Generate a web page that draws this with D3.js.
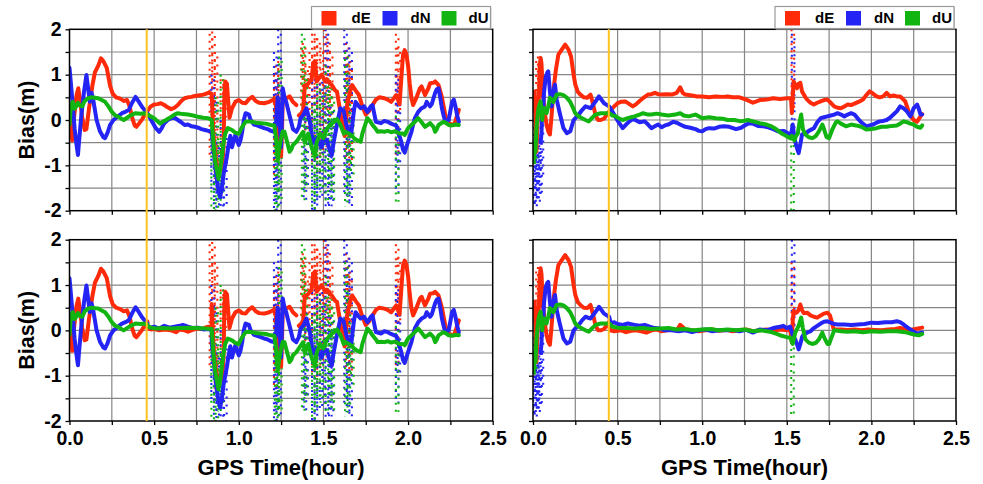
<!DOCTYPE html>
<html><head><meta charset="utf-8">
<script src="https://cdn.jsdelivr.net/npm/d3@7"></script>
<style>
html,body{margin:0;padding:0;background:#fff;}
svg{display:block;font-family:Arial,"Liberation Sans",sans-serif;}
</style></head><body>
<svg id="chart" width="983" height="484"></svg>
<script>
// ---------------- data ----------------
const seriesNames = ["dE", "dN", "dU"];
const seriesColors = ["#FF2A0A", "#2424F4", "#12B412"];
const xLabelTicks = [0, 0.5, 1.0, 1.5, 2.0, 2.5];
const yLabelTicks = [-2, -1, 0, 1, 2];
const markerTimes = [0.456, 0.448];   // vertical marker, left column / right column

// Left column: shared start (0 - 0.46 h)
const leftHeadE = [[0,0.2],[0.008,-0.1],[0.016,-0.45],[0.028,0.1],[0.042,0.55],[0.052,0.7],[0.062,0.45],[0.075,0.05],[0.09,-0.22],[0.1,-0.2],[0.115,0.25],[0.135,0.75],[0.15,1.05],[0.17,1.2],[0.186,1.36],[0.2,1.3],[0.22,1.15],[0.24,0.75],[0.255,0.58],[0.275,0.5],[0.3,0.47],[0.32,0.42],[0.34,0.44],[0.355,0.3],[0.37,0.05],[0.385,-0.12],[0.395,-0.15],[0.41,-0.08],[0.43,0.02],[0.445,0.12],[0.46,0.2]];
const leftHeadN = [[0,1.15],[0.006,0.9],[0.013,0.6],[0.022,0.2],[0.03,-0.18],[0.04,-0.5],[0.05,-0.77],[0.058,-0.4],[0.07,0.1],[0.085,0.6],[0.1,0.99],[0.11,0.7],[0.12,0.4],[0.13,0.6],[0.14,0.45],[0.16,0.0],[0.18,-0.25],[0.2,-0.38],[0.21,-0.4],[0.225,-0.28],[0.24,-0.11],[0.26,0.0],[0.28,0.06],[0.31,0.15],[0.33,0.18],[0.35,0.22],[0.37,0.38],[0.39,0.51],[0.41,0.4],[0.43,0.28],[0.46,0.15]];
const leftHeadU = [[0,-0.1],[0.006,0.2],[0.012,0.35],[0.02,0.4],[0.03,0.25],[0.04,0.3],[0.05,0.38],[0.06,0.32],[0.075,0.3],[0.09,0.42],[0.11,0.48],[0.13,0.5],[0.15,0.49],[0.17,0.48],[0.19,0.44],[0.21,0.4],[0.23,0.3],[0.25,0.18],[0.27,0.1],[0.29,0.07],[0.31,0.02],[0.32,0.0],[0.34,0.05],[0.36,0.1],[0.39,0.15],[0.42,0.14],[0.44,0.15],[0.46,0.12]];

// Left column, upper panel: 0.46 - 0.84 h
const leftTopMidE = [[0.46,0.2],[0.48,0.3],[0.5,0.34],[0.52,0.35],[0.54,0.37],[0.56,0.33],[0.58,0.28],[0.6,0.24],[0.62,0.27],[0.64,0.33],[0.66,0.42],[0.68,0.48],[0.7,0.5],[0.72,0.51],[0.74,0.53],[0.76,0.54],[0.78,0.55],[0.8,0.57],[0.82,0.6],[0.84,0.58]];
const leftTopMidN = [[0.46,0.15],[0.475,0.05],[0.49,-0.05],[0.51,-0.18],[0.53,-0.26],[0.545,-0.18],[0.56,-0.07],[0.58,0.0],[0.6,0.04],[0.62,0.05],[0.64,0.0],[0.66,-0.05],[0.68,-0.11],[0.7,-0.1],[0.72,-0.14],[0.74,-0.15],[0.76,-0.17],[0.78,-0.2],[0.8,-0.22],[0.82,-0.24],[0.84,-0.26]];
const leftTopMidU = [[0.46,0.12],[0.48,0.08],[0.5,0.04],[0.52,-0.03],[0.535,-0.08],[0.55,-0.04],[0.57,0.0],[0.6,0.07],[0.62,0.12],[0.64,0.15],[0.67,0.13],[0.7,0.12],[0.73,0.1],[0.76,0.07],[0.79,0.05],[0.82,0.04],[0.84,0.0]];

// Left column, lower panel: 0.46 - 0.84 h
const leftBotMidE = [[0.46,0.05],[0.48,0.02],[0.5,0.03],[0.53,0.0],[0.56,0.02],[0.6,0.0],[0.63,-0.04],[0.65,0.02],[0.68,0.0],[0.7,-0.03],[0.72,0.0],[0.75,0.04],[0.78,0.03],[0.8,0.06],[0.82,0.08],[0.84,0.06]];
const leftBotMidN = [[0.46,0.1],[0.48,0.06],[0.5,0.08],[0.53,0.04],[0.56,0.1],[0.59,0.06],[0.62,0.08],[0.65,0.1],[0.67,0.12],[0.7,0.08],[0.73,0.05],[0.76,0.06],[0.79,0.02],[0.82,0.03],[0.84,0.0]];
const leftBotMidU = [[0.46,0.1],[0.48,0.06],[0.51,0.04],[0.55,0.05],[0.6,0.04],[0.65,0.05],[0.7,0.06],[0.75,0.05],[0.8,0.04],[0.84,0.03]];

// Left column: shared remainder (0.84 - 2.3 h)
const leftTailE = [[0.84,0.58],[0.85,-0.3],[0.86,-0.75],[0.87,-1.0],[0.88,-1.12],[0.89,-1.05],[0.9,-1.1],[0.91,-0.6],[0.915,0.5],[0.92,0.85],[0.93,0.8],[0.94,0.3],[0.945,0.05],[0.96,0.26],[0.98,0.4],[1.0,0.44],[1.02,0.38],[1.04,0.37],[1.06,0.46],[1.08,0.51],[1.1,0.42],[1.12,0.38],[1.15,0.37],[1.18,0.4],[1.2,0.44],[1.21,0.46],[1.22,0.3],[1.23,-0.2],[1.24,-0.6],[1.25,-0.8],[1.255,-0.3],[1.26,0.5],[1.28,0.48],[1.3,0.52],[1.32,0.4],[1.34,0.33],[1.347,null],[1.355,0.1],[1.37,0.15],[1.38,0.2],[1.39,0.75],[1.41,0.8],[1.43,0.9],[1.44,1.25],[1.45,1.3],[1.46,0.85],[1.48,0.95],[1.49,1.0],[1.51,0.85],[1.52,0.9],[1.54,0.8],[1.55,0.77],[1.57,0.65],[1.58,0.63],[1.59,0.4],[1.6,0.18],[1.61,-0.1],[1.625,-0.35],[1.635,0.1],[1.64,0.33],[1.655,0.6],[1.67,0.77],[1.69,0.65],[1.71,0.55],[1.73,0.3],[1.75,0.12],[1.77,0.2],[1.79,0.33],[1.81,0.45],[1.83,0.5],[1.86,0.48],[1.88,0.45],[1.9,0.4],[1.92,0.5],[1.93,0.55],[1.95,0.35],[1.96,0.9],[1.97,1.43],[1.98,1.54],[1.99,1.45],[2.0,1.2],[2.01,0.8],[2.02,0.48],[2.03,0.33],[2.05,0.5],[2.07,0.7],[2.08,0.74],[2.1,0.55],[2.12,0.7],[2.13,0.81],[2.15,0.82],[2.16,0.85],[2.18,0.77],[2.2,0.5],[2.21,0.3],[2.22,0.11],[2.24,-0.08],[2.26,-0.1],[2.27,-0.11],[2.28,-0.02],[2.29,0.1],[2.3,0.22]];
const leftTailN = [[0.84,-0.26],[0.85,-0.6],[0.86,-1.0],[0.87,-1.3],[0.88,-1.55],[0.89,-1.7],[0.9,-1.5],[0.91,-1.2],[0.92,-1.0],[0.93,-0.8],[0.94,-0.55],[0.95,-0.35],[0.96,-0.6],[0.97,-0.45],[0.98,-0.33],[0.99,-0.45],[1.0,-0.55],[1.01,-0.45],[1.02,-0.26],[1.03,0.0],[1.04,0.15],[1.06,0.12],[1.07,0.0],[1.09,-0.1],[1.1,-0.11],[1.13,-0.15],[1.15,-0.18],[1.17,-0.2],[1.19,-0.24],[1.21,-0.26],[1.22,-0.1],[1.23,0.5],[1.24,0.1],[1.25,-0.6],[1.26,0.7],[1.27,0.5],[1.28,0.4],[1.3,0.1],[1.32,-0.2],[1.34,-0.26],[1.355,-0.15],[1.365,0.04],[1.38,0.1],[1.4,0.26],[1.42,-0.04],[1.43,-0.3],[1.44,-0.5],[1.46,-0.4],[1.48,-0.55],[1.49,-0.6],[1.5,-0.4],[1.52,-0.45],[1.54,-0.7],[1.55,-0.77],[1.56,-0.5],[1.58,-0.1],[1.6,0.26],[1.62,0.2],[1.635,-0.1],[1.65,-0.26],[1.665,-0.28],[1.68,0.2],[1.69,0.4],[1.71,0.3],[1.72,0.26],[1.74,0.3],[1.76,0.18],[1.78,0.3],[1.79,0.33],[1.81,-0.04],[1.84,-0.07],[1.86,-0.02],[1.88,-0.04],[1.9,-0.08],[1.92,-0.11],[1.93,-0.12],[1.945,-0.3],[1.96,-0.48],[1.97,-0.65],[1.98,-0.72],[1.99,-0.6],[2.0,-0.48],[2.02,-0.26],[2.03,-0.1],[2.04,0.04],[2.06,0.18],[2.08,0.26],[2.1,0.3],[2.11,0.4],[2.13,0.3],[2.14,0.35],[2.16,0.6],[2.17,0.68],[2.18,0.7],[2.19,0.5],[2.2,0.26],[2.21,0.1],[2.22,-0.04],[2.24,0.0],[2.25,0.2],[2.26,0.4],[2.27,0.45],[2.28,0.3],[2.29,0.1],[2.3,-0.04]];
const leftTailU = [[0.84,0.0],[0.85,-0.5],[0.86,-0.9],[0.87,-1.1],[0.88,-1.3],[0.89,-1.1],[0.9,-0.8],[0.91,-0.5],[0.92,-0.3],[0.935,-0.18],[0.96,-0.22],[0.98,-0.28],[1.0,-0.3],[1.02,-0.15],[1.04,-0.04],[1.06,-0.03],[1.08,-0.04],[1.1,-0.06],[1.13,-0.07],[1.16,-0.08],[1.19,-0.11],[1.21,-0.12],[1.22,-0.4],[1.23,-0.9],[1.24,-0.6],[1.25,-0.4],[1.26,-0.25],[1.27,-0.26],[1.29,-0.55],[1.3,-0.7],[1.31,-0.65],[1.32,-0.55],[1.34,-0.48],[1.36,-0.37],[1.38,-0.26],[1.39,-0.5],[1.41,-0.3],[1.43,-0.6],[1.45,-0.8],[1.46,-0.5],[1.48,-0.3],[1.5,-0.4],[1.52,-0.2],[1.54,-0.1],[1.56,-0.05],[1.58,0.02],[1.6,-0.1],[1.62,-0.3],[1.63,-0.26],[1.65,-0.3],[1.67,-0.35],[1.68,-0.4],[1.7,-0.45],[1.72,-0.48],[1.73,-0.3],[1.74,-0.18],[1.76,0.04],[1.78,-0.05],[1.79,-0.11],[1.81,-0.2],[1.82,-0.26],[1.84,-0.25],[1.86,-0.26],[1.88,-0.24],[1.9,-0.27],[1.92,-0.25],[1.93,-0.26],[1.95,-0.3],[1.97,-0.3],[1.98,-0.33],[1.99,-0.25],[2.0,-0.18],[2.02,-0.11],[2.04,-0.04],[2.06,0.04],[2.08,-0.05],[2.1,-0.15],[2.12,-0.1],[2.13,-0.07],[2.15,-0.15],[2.16,-0.26],[2.17,-0.2],[2.18,-0.11],[2.2,-0.06],[2.21,-0.04],[2.23,-0.08],[2.24,-0.11],[2.26,-0.12],[2.28,-0.1],[2.3,-0.11]];

// Left column: scattered epochs [time, low, high]
const leftBurstE = [[0.835,-0.8,1.9],[0.85,0.3,1.95],[0.865,-1.3,1.5],[0.88,-1.3,-0.6],[0.9,-1.2,0.9],[0.915,0.0,0.9],[1.215,-1.3,1.0],[1.225,-0.9,1.2],[1.24,-0.9,1.3],[1.375,0.2,1.6],[1.385,0.0,1.7],[1.4,-0.3,1.2],[1.425,-0.5,1.5],[1.44,-1.0,1.9],[1.455,0.3,1.9],[1.47,-1.3,1.8],[1.49,-0.8,1.6],[1.51,-0.6,2.0],[1.53,0.1,1.8],[1.545,0.0,1.5],[1.64,-0.9,1.7],[1.65,-0.5,1.4],[1.66,-1.0,1.2],[1.935,-0.8,1.9],[1.945,0.2,1.6]];
const leftBurstN = [[0.845,-1.6,1.0],[0.86,-1.9,0.5],[0.875,-2.0,-0.5],[0.9,-2.0,0.0],[0.92,-2.0,-0.3],[1.215,-2.0,1.5],[1.225,-1.8,0.9],[1.24,-1.9,2.0],[1.39,-1.8,0.5],[1.4,-1.5,0.3],[1.44,-2.0,1.0],[1.455,-2.0,0.2],[1.47,-1.8,0.9],[1.5,-1.7,1.0],[1.52,-2.0,2.0],[1.54,-1.9,0.0],[1.55,-1.8,0.3],[1.63,-1.6,2.0],[1.645,-1.8,1.0],[1.66,-1.9,1.6],[1.935,-1.6,1.0],[1.945,-1.0,0.8]];
const leftBurstU = [[0.845,-2.0,0.3],[0.87,-2.0,0.5],[0.885,-1.8,-0.4],[0.9,-1.6,1.0],[1.22,-2.0,0.5],[1.23,-1.9,0.2],[1.245,-1.8,1.4],[1.38,-1.8,1.9],[1.395,-1.5,1.0],[1.44,-2.0,0.3],[1.455,-1.8,0.4],[1.47,-1.5,0.8],[1.49,-1.6,0.6],[1.52,-1.8,1.2],[1.54,-1.5,0.8],[1.555,-1.8,0.5],[1.635,-1.9,1.5],[1.65,-1.7,0.8],[1.67,-1.2,0.0],[1.935,-1.8,0.1]];

// Right column: shared start (0 - 0.45 h)
const rightHeadE = [[0,0.2],[0.005,0.5],[0.01,0.63],[0.015,0.1],[0.02,-0.7],[0.027,0.0],[0.035,0.5],[0.04,1.2],[0.045,1.37],[0.05,1.25],[0.058,0.63],[0.068,0.2],[0.08,-0.1],[0.09,-0.25],[0.1,-0.32],[0.11,0.1],[0.12,0.63],[0.135,1.1],[0.15,1.44],[0.17,1.55],[0.19,1.66],[0.21,1.55],[0.225,1.4],[0.24,1.0],[0.25,0.78],[0.265,0.62],[0.28,0.56],[0.3,0.5],[0.32,0.49],[0.34,0.56],[0.355,0.35],[0.37,0.1],[0.385,0.0],[0.4,0.0],[0.42,0.03],[0.45,0.19]];
const rightHeadN = [[0.045,-0.5],[0.05,-0.3],[0.055,0.3],[0.06,0.2],[0.065,0.6],[0.075,0.95],[0.085,1.05],[0.09,1.07],[0.1,0.63],[0.11,0.3],[0.115,0.45],[0.125,0.7],[0.13,0.78],[0.14,0.45],[0.16,0.12],[0.18,-0.18],[0.2,-0.29],[0.22,-0.25],[0.24,0.0],[0.27,0.12],[0.29,0.22],[0.31,0.3],[0.34,0.26],[0.37,0.41],[0.39,0.52],[0.42,0.37],[0.45,0.3]];
const rightHeadU = [[0,-0.5],[0.005,-0.9],[0.01,-0.5],[0.015,-0.7],[0.02,-0.2],[0.03,0.19],[0.035,0.3],[0.045,0.41],[0.05,0.2],[0.055,0.0],[0.06,0.26],[0.07,0.26],[0.08,0.15],[0.09,0.3],[0.1,0.49],[0.12,0.4],[0.14,0.56],[0.16,0.57],[0.18,0.55],[0.2,0.49],[0.22,0.4],[0.235,0.28],[0.25,0.15],[0.27,0.08],[0.29,0.04],[0.31,0.0],[0.33,-0.03],[0.35,0.05],[0.37,0.12],[0.4,0.15],[0.45,0.15]];
const rightHeadBurstE = [[0.026,0.2,1.3],[0.036,0.4,1.4],[0.045,0.5,1.2]];
const rightHeadBurstN = [[0.002,-1.9,-0.3],[0.008,-1.85,-0.6],[0.014,-1.9,-0.7],[0.02,-1.8,-0.7],[0.026,-1.75,-0.7],[0.032,-1.8,-0.6],[0.038,-1.7,-0.6],[0.044,-1.6,-0.4],[0.052,-1.2,0.0],[0.06,0.4,1.0]];
const rightHeadBurstU = [[0.004,-1.0,-0.3],[0.012,-0.9,0.0],[0.02,-0.6,0.2]];

// Right column, upper panel: 0.45 - 2.3 h
const rightTopTailE = [[0.45,0.19],[0.48,0.3],[0.5,0.37],[0.52,0.4],[0.545,0.41],[0.57,0.35],[0.59,0.3],[0.61,0.35],[0.63,0.42],[0.65,0.48],[0.68,0.56],[0.7,0.57],[0.72,0.6],[0.74,0.57],[0.76,0.56],[0.79,0.57],[0.82,0.56],[0.85,0.6],[0.87,0.72],[0.885,0.6],[0.9,0.56],[0.94,0.54],[0.97,0.52],[1.0,0.52],[1.04,0.5],[1.08,0.52],[1.12,0.51],[1.15,0.52],[1.18,0.5],[1.22,0.5],[1.26,0.45],[1.3,0.38],[1.34,0.44],[1.38,0.45],[1.42,0.48],[1.46,0.46],[1.5,0.48],[1.525,0.48],[1.53,0.15],[1.535,0.5],[1.54,0.85],[1.55,0.78],[1.56,0.7],[1.57,0.8],[1.58,0.82],[1.59,0.63],[1.61,0.5],[1.62,0.45],[1.64,0.38],[1.66,0.34],[1.68,0.38],[1.7,0.41],[1.72,0.44],[1.74,0.45],[1.76,0.38],[1.78,0.3],[1.8,0.27],[1.82,0.26],[1.84,0.3],[1.86,0.34],[1.88,0.33],[1.9,0.36],[1.93,0.41],[1.95,0.45],[1.97,0.55],[1.99,0.63],[2.01,0.58],[2.03,0.52],[2.05,0.5],[2.07,0.52],[2.09,0.6],[2.11,0.52],[2.13,0.54],[2.15,0.52],[2.17,0.52],[2.19,0.45],[2.2,0.41],[2.21,0.3],[2.22,0.19],[2.24,0.05],[2.25,0.0],[2.27,-0.04],[2.28,0.02],[2.29,0.08],[2.3,0.13]];
const rightTopTailN = [[0.45,0.3],[0.47,0.18],[0.49,0.05],[0.51,-0.07],[0.53,-0.18],[0.55,-0.1],[0.57,-0.03],[0.59,0.02],[0.61,-0.01],[0.63,-0.05],[0.66,-0.03],[0.68,-0.1],[0.7,-0.18],[0.72,-0.14],[0.74,-0.1],[0.76,-0.16],[0.78,-0.12],[0.8,-0.1],[0.83,-0.04],[0.85,-0.06],[0.87,-0.1],[0.9,-0.15],[0.93,-0.17],[0.96,-0.2],[0.98,-0.24],[1.0,-0.25],[1.02,-0.2],[1.04,-0.18],[1.07,-0.19],[1.1,-0.15],[1.13,-0.14],[1.16,-0.15],[1.2,-0.2],[1.23,-0.17],[1.26,-0.1],[1.28,-0.07],[1.3,-0.08],[1.33,-0.13],[1.36,-0.14],[1.39,-0.16],[1.42,-0.2],[1.45,-0.25],[1.48,-0.24],[1.51,-0.3],[1.525,-0.33],[1.535,-0.1],[1.545,-0.4],[1.56,-0.62],[1.57,-0.73],[1.58,-0.54],[1.59,-0.32],[1.61,-0.3],[1.63,-0.24],[1.66,-0.18],[1.68,-0.05],[1.7,0.04],[1.72,0.06],[1.74,0.08],[1.76,0.1],[1.78,0.12],[1.8,0.15],[1.82,0.12],[1.84,0.08],[1.86,0.12],[1.88,0.15],[1.9,0.12],[1.92,0.03],[1.94,-0.05],[1.97,-0.14],[1.99,-0.12],[2.01,-0.1],[2.03,-0.06],[2.05,-0.03],[2.07,-0.02],[2.09,0.0],[2.11,0.05],[2.13,0.12],[2.15,0.19],[2.17,0.3],[2.19,0.26],[2.21,0.19],[2.23,0.08],[2.25,0.26],[2.27,0.34],[2.28,0.25],[2.29,0.12],[2.3,0.12]];
const rightTopTailU = [[0.45,0.15],[0.47,0.1],[0.49,0.08],[0.51,0.03],[0.53,0.0],[0.56,0.04],[0.58,0.06],[0.6,0.08],[0.63,0.12],[0.65,0.15],[0.68,0.12],[0.7,0.12],[0.73,0.14],[0.76,0.12],[0.8,0.1],[0.84,0.12],[0.87,0.15],[0.89,0.1],[0.92,0.08],[0.96,0.12],[1.0,0.04],[1.04,0.06],[1.08,0.04],[1.12,0.03],[1.15,0.0],[1.19,0.0],[1.23,-0.03],[1.27,0.0],[1.3,-0.03],[1.34,-0.07],[1.38,-0.1],[1.41,-0.14],[1.44,-0.21],[1.47,-0.3],[1.5,-0.36],[1.52,-0.4],[1.53,-0.35],[1.545,-0.45],[1.555,-0.35],[1.565,-0.3],[1.575,-0.05],[1.585,0.12],[1.595,-0.2],[1.61,-0.32],[1.63,-0.38],[1.65,-0.4],[1.67,-0.36],[1.69,-0.25],[1.71,-0.1],[1.72,-0.2],[1.735,-0.38],[1.75,-0.4],[1.77,-0.2],[1.79,-0.05],[1.8,-0.03],[1.82,-0.08],[1.85,-0.14],[1.88,-0.1],[1.91,-0.12],[1.94,-0.15],[1.97,-0.21],[2.0,-0.2],[2.03,-0.18],[2.06,-0.15],[2.09,-0.15],[2.12,-0.13],[2.15,-0.12],[2.17,-0.08],[2.19,-0.03],[2.21,-0.05],[2.23,-0.08],[2.25,-0.1],[2.27,-0.15],[2.29,-0.17],[2.3,-0.12]];
const rightTopBurstE = [[1.535,0.2,2.0]];
const rightTopBurstN = [[1.537,-0.3,1.9]];
const rightTopBurstU = [[1.533,-2.0,-0.1]];

// Right column, lower panel: 0.45 - 2.3 h
const rightBotTailE = [[0.45,0.15],[0.455,0.0],[0.48,-0.02],[0.52,0.0],[0.55,-0.04],[0.58,-0.01],[0.61,0.0],[0.64,-0.02],[0.67,-0.05],[0.7,0.0],[0.73,0.02],[0.76,-0.02],[0.79,0.0],[0.82,0.03],[0.85,0.0],[0.87,0.12],[0.88,0.09],[0.9,0.02],[0.94,0.0],[0.98,-0.02],[1.02,0.0],[1.06,0.02],[1.1,-0.01],[1.14,0.01],[1.18,-0.02],[1.22,0.0],[1.26,0.02],[1.3,-0.02],[1.34,0.0],[1.38,0.02],[1.42,-0.01],[1.46,0.02],[1.5,0.0],[1.52,0.02],[1.53,-0.27],[1.535,0.2],[1.54,0.43],[1.55,0.38],[1.56,0.4],[1.57,0.45],[1.58,0.57],[1.59,0.45],[1.6,0.38],[1.62,0.39],[1.64,0.33],[1.66,0.3],[1.68,0.28],[1.7,0.33],[1.72,0.37],[1.74,0.39],[1.755,0.33],[1.765,0.2],[1.775,0.05],[1.78,0.02],[1.82,0.02],[1.86,0.01],[1.9,0.02],[1.94,0.0],[1.98,0.02],[2.02,0.01],[2.06,0.0],[2.1,0.02],[2.14,0.03],[2.17,0.05],[2.2,0.03],[2.23,0.01],[2.26,0.03],[2.3,0.06]];
const rightBotTailN = [[0.45,0.3],[0.46,0.15],[0.48,0.18],[0.5,0.14],[0.53,0.12],[0.56,0.15],[0.6,0.12],[0.63,0.1],[0.66,0.12],[0.69,0.08],[0.72,0.05],[0.75,0.04],[0.78,0.0],[0.82,0.0],[0.86,-0.02],[0.9,0.0],[0.94,-0.04],[0.98,0.0],[1.02,0.02],[1.06,-0.02],[1.1,0.0],[1.14,0.0],[1.18,0.01],[1.22,-0.02],[1.26,0.01],[1.3,-0.05],[1.34,0.02],[1.38,0.0],[1.42,0.05],[1.46,0.08],[1.48,0.1],[1.5,0.05],[1.52,0.08],[1.535,-0.1],[1.55,-0.2],[1.56,-0.3],[1.57,-0.42],[1.58,-0.3],[1.59,-0.15],[1.6,-0.09],[1.62,-0.05],[1.64,-0.02],[1.66,0.05],[1.68,0.1],[1.7,0.15],[1.72,0.19],[1.74,0.2],[1.76,0.17],[1.78,0.14],[1.8,0.13],[1.84,0.13],[1.88,0.12],[1.92,0.13],[1.96,0.14],[2.0,0.17],[2.04,0.16],[2.08,0.18],[2.12,0.18],[2.15,0.2],[2.17,0.18],[2.19,0.13],[2.21,0.07],[2.23,0.02],[2.25,-0.03],[2.27,-0.07],[2.3,-0.05]];
const rightBotTailU = [[0.45,0.15],[0.47,0.08],[0.5,0.06],[0.55,0.05],[0.6,0.04],[0.65,0.05],[0.7,0.03],[0.75,0.04],[0.8,0.05],[0.85,0.02],[0.9,0.03],[0.95,0.0],[1.0,0.02],[1.05,0.03],[1.1,0.0],[1.15,0.02],[1.2,0.0],[1.25,0.02],[1.3,-0.02],[1.35,0.0],[1.4,-0.03],[1.44,-0.08],[1.47,-0.12],[1.5,-0.15],[1.52,-0.16],[1.535,-0.3],[1.55,-0.05],[1.57,0.1],[1.585,0.28],[1.595,0.05],[1.61,-0.2],[1.63,-0.27],[1.65,-0.3],[1.67,-0.28],[1.69,-0.2],[1.71,-0.05],[1.72,-0.15],[1.74,-0.3],[1.75,-0.3],[1.765,-0.15],[1.78,0.0],[1.82,-0.02],[1.86,-0.03],[1.9,-0.02],[1.95,-0.04],[2.0,-0.02],[2.05,-0.03],[2.1,-0.02],[2.15,-0.02],[2.2,-0.04],[2.23,-0.07],[2.26,-0.1],[2.28,-0.11],[2.3,-0.08]];
const rightBotBurstE = [[1.535,-0.2,1.5]];
const rightBotBurstN = [[1.537,-0.3,2.0]];
const rightBotBurstU = [[1.533,-1.94,-0.1]];

// ---------------- layout ----------------
const svg = d3.select("#chart");
const cols = [{left: 69.5, right: 492.7}, {left: 533, right: 956}];
const rows = [{top: 29.3, bottom: 210.7}, {top: 239.7, bottom: 421}];

const panels = [
  {c: 0, r: 0, lines: [leftHeadE.concat(leftTopMidE, leftTailE), leftHeadN.concat(leftTopMidN, leftTailN), leftHeadU.concat(leftTopMidU, leftTailU)],
   bursts: [leftBurstE, leftBurstN, leftBurstU]},
  {c: 1, r: 0, lines: [rightHeadE.concat(rightTopTailE), rightHeadN.concat(rightTopTailN), rightHeadU.concat(rightTopTailU)],
   bursts: [rightHeadBurstE.concat(rightTopBurstE), rightHeadBurstN.concat(rightTopBurstN), rightHeadBurstU.concat(rightTopBurstU)]},
  {c: 0, r: 1, lines: [leftHeadE.concat(leftBotMidE, leftTailE), leftHeadN.concat(leftBotMidN, leftTailN), leftHeadU.concat(leftBotMidU, leftTailU)],
   bursts: [leftBurstE, leftBurstN, leftBurstU]},
  {c: 1, r: 1, lines: [rightHeadE.concat(rightBotTailE), rightHeadN.concat(rightBotTailN), rightHeadU.concat(rightBotTailU)],
   bursts: [rightHeadBurstE.concat(rightBotBurstE), rightHeadBurstN.concat(rightBotBurstN), rightHeadBurstU.concat(rightBotBurstU)]}
];

const fontFamily = 'Arial, "Liberation Sans", sans-serif';
const fmt1 = d3.format(".1f");
// each scattered epoch is drawn as two offset dotted columns
const burstColumns = [{dx: -1.2, dash: "2 5", off: 0}, {dx: 1.4, dash: "2 6", off: 3.5}];

panels.forEach(p => {
  const col = cols[p.c], row = rows[p.r];
  const x = d3.scaleLinear().domain([0, 2.5]).range([col.left, col.right]);
  const y = d3.scaleLinear().domain([-2, 2]).range([row.bottom, row.top]);
  p.x = x; p.y = y;
  const g = svg.append("g");

  // grid
  const gx = d3.range(0.25, 2.5, 0.25);
  const gy = d3.range(-1.5, 2, 0.5);
  g.append("g").selectAll("line").data(gx).join("line")
    .attr("x1", d => x(d)).attr("x2", d => x(d))
    .attr("y1", row.top).attr("y2", row.bottom)
    .attr("stroke", "#868686").attr("stroke-width", 1.2);
  g.append("g").selectAll("line").data(gy).join("line")
    .attr("x1", col.left).attr("x2", col.right)
    .attr("y1", d => y(d)).attr("y2", d => y(d))
    .attr("stroke", "#868686").attr("stroke-width", 1.2);

  const clip = "clip" + p.c + p.r;
  svg.append("clipPath").attr("id", clip).append("rect")
    .attr("x", col.left).attr("y", row.top - 1)
    .attr("width", col.right - col.left).attr("height", row.bottom - row.top + 2);
  const data = g.append("g").attr("clip-path", `url(#${clip})`);

  // scattered epochs
  p.bursts.forEach((b, i) => {
    burstColumns.forEach(bc => {
      data.append("g").selectAll("line").data(b).join("line")
        .attr("x1", d => x(d[0]) + bc.dx).attr("x2", d => x(d[0]) + bc.dx)
        .attr("y1", d => y(d[2])).attr("y2", d => y(d[1]))
        .attr("stroke", seriesColors[i]).attr("stroke-width", 2.1)
        .attr("stroke-dasharray", bc.dash).attr("stroke-dashoffset", bc.off);
    });
  });

  // series lines
  const line = d3.line().defined(d => d[1] !== null).x(d => x(d[0])).y(d => y(d[1]));
  p.lines.forEach((s, i) => {
    data.append("path").datum(s).attr("d", line)
      .attr("fill", "none").attr("stroke", seriesColors[i])
      .attr("stroke-width", 4).attr("stroke-linejoin", "round").attr("stroke-linecap", "round");
  });

  // axes
  const showY = p.c === 0, showX = p.r === 1;
  const ay = d3.axisLeft(y).tickValues(d3.range(-2, 2.01, 0.5)).tickSize(4).tickPadding(4)
    .tickFormat(d => (showY && yLabelTicks.includes(d)) ? d : "");
  const ax = d3.axisBottom(x).tickValues(d3.range(0, 2.51, 0.25)).tickSize(4).tickPadding(6)
    .tickFormat(d => (showX && xLabelTicks.some(v => Math.abs(v - d) < 1e-9)) ? fmt1(d) : "");
  [[ay, `translate(${col.left},0)`], [ax, `translate(0,${row.bottom})`]].forEach(([a, tr]) => {
    const ag = g.append("g").attr("transform", tr).call(a);
    ag.select(".domain").remove();
    ag.selectAll(".tick line").attr("stroke", "#000").attr("stroke-width", 1.3);
    ag.selectAll(".tick text").attr("fill", "#000").attr("font-family", fontFamily)
      .attr("font-weight", "bold").attr("font-size", 19.5);
  });

  // frame
  g.append("rect").attr("x", col.left).attr("y", row.top)
    .attr("width", col.right - col.left).attr("height", row.bottom - row.top)
    .attr("fill", "none").attr("stroke", "#000").attr("stroke-width", 1.5);

  // axis titles
  if (showY) {
    g.append("text").attr("transform", `translate(27,${(row.top + row.bottom) / 2}) rotate(-90)`)
      .attr("text-anchor", "middle").attr("dominant-baseline", "central")
      .attr("font-family", fontFamily).attr("font-weight", "bold").attr("font-size", 21.5)
      .text("Bias(m)");
  }
  if (showX) {
    g.append("text").attr("x", (col.left + col.right) / 2).attr("y", 475)
      .attr("text-anchor", "middle")
      .attr("font-family", fontFamily).attr("font-weight", "bold").attr("font-size", 22)
      .text("GPS Time(hour)");
  }
});

// vertical markers spanning both rows of each column
markerTimes.forEach((t, c) => {
  const x = panels.find(p => p.c === c).x;
  svg.append("line").attr("x1", x(t)).attr("x2", x(t))
    .attr("y1", rows[0].top).attr("y2", rows[1].bottom)
    .attr("stroke", "#FFC21F").attr("stroke-width", 2);
});

// legends above the upper panels
const legendBoxes = [{x: 311.5, w: 179}, {x: 775, w: 179}];
const swatchOffsets = [10, 71, 130];
const labelOffsets = [40, 99, 157];
legendBoxes.forEach(b => {
  const lg = svg.append("g").attr("transform", `translate(${b.x},6.5)`);
  lg.append("rect").attr("x", 1).attr("y", 1).attr("width", b.w).attr("height", 22)
    .attr("fill", "#d0d0d0");
  lg.append("rect").attr("width", b.w).attr("height", 22)
    .attr("fill", "#fff").attr("stroke", "#9a9a9a").attr("stroke-width", 1.2);
  seriesNames.forEach((n, i) => {
    lg.append("rect").attr("x", swatchOffsets[i]).attr("y", 4.5).attr("width", 15).attr("height", 14.5)
      .attr("fill", seriesColors[i]);
    lg.append("text").attr("x", labelOffsets[i]).attr("y", 16.8)
      .attr("font-family", fontFamily).attr("font-weight", "bold").attr("font-size", 15)
      .text(n);
  });
});
</script>
</body></html>
